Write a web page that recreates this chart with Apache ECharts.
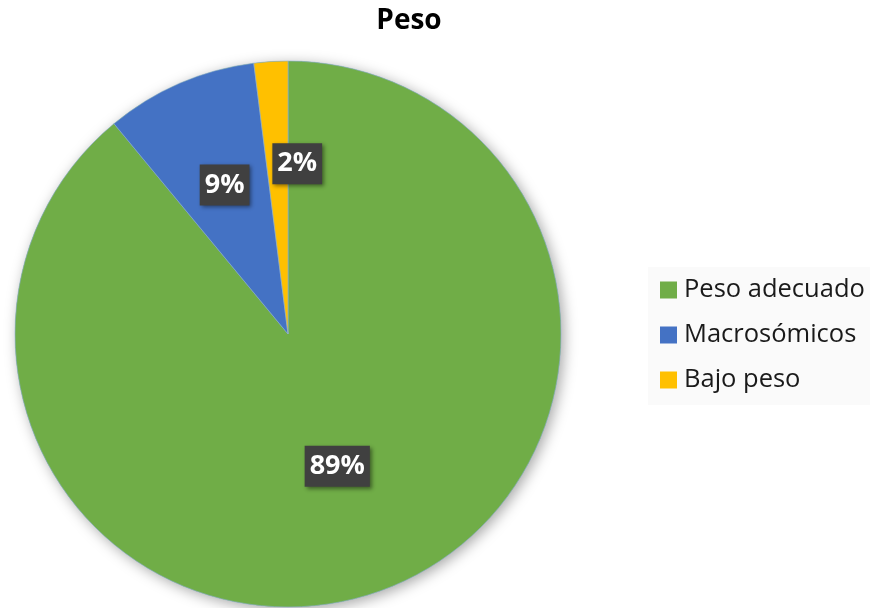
<!DOCTYPE html>
<html><head><meta charset="utf-8">
<script src="https://cdn.jsdelivr.net/npm/echarts@6/dist/echarts.min.js"></script>
<style>html,body{margin:0;padding:0;background:#fff}#c{width:870px;height:608px}</style>
</head><body><div id="c"></div>
<script>
const titleText = "Peso";
const categories = ["Peso adecuado", "Macrosómicos", "Bajo peso"];
const values = [89, 9, 2];
const colors = ["#70AD47", "#4472C4", "#FFC000"];
const labelOffsets = [[2, 1], [-8, -21], [18, -31]];

const chart = echarts.init(document.getElementById('c'));
const data = categories.map((n, i) => ({
  name: n, value: values[i], itemStyle: { color: colors[i] },
  label: { offset: labelOffsets[i] }
}));
const total = values.reduce((a, b) => a + b, 0);
chart.setOption({
  animation: false,
  backgroundColor: '#fff',
  title: { text: titleText, left: 404, top: 2, textAlign: 'center',
    textStyle: { fontFamily: 'Open Sans', fontWeight: 'bold', fontSize: 28, color: '#000' } },
  legend: {
    orient: 'vertical', left: 648, top: 267, padding: [8, 8, 10, 12],
    backgroundColor: '#fafafa',
    itemWidth: 17, itemHeight: 17, itemGap: 15,
    icon: 'rect',
    itemStyle: { borderWidth: 0 },
    textStyle: { fontFamily: 'Open Sans', fontSize: 25.5, lineHeight: 30, color: '#1a1a1a', padding: [0, 0, 0, 2] },
    data: categories
  },
  series: [{
    type: 'pie', center: [288, 334], radius: 273, silent: true, z: 1,
    data: [{ name: '_bg', value: total }],
    itemStyle: { color: '#70AD47', shadowColor: 'rgba(0,0,0,0.35)', shadowBlur: 14, shadowOffsetX: 3, shadowOffsetY: 3 },
    label: { show: false }, labelLine: { show: false },
    emphasis: { disabled: true }, tooltip: { show: false }
  }, {
    type: 'pie', center: [288, 334], radius: 273, startAngle: 90, clockwise: true, z: 2,
    data: data,
    itemStyle: { borderColor: '#8fb0d8', borderWidth: 0.6 },
    label: {
      show: true, position: 'inside', formatter: '{c}%',
      color: '#fff', fontFamily: 'Open Sans', fontWeight: 'bold', fontSize: 27, lineHeight: 33,
      backgroundColor: '#404040', padding: [4, 5, 4, 5],
      shadowColor: 'rgba(0,0,0,0.45)', shadowBlur: 4, shadowOffsetX: 2, shadowOffsetY: 2
    },
    labelLine: { show: false }
  }]
});
</script></body></html>
